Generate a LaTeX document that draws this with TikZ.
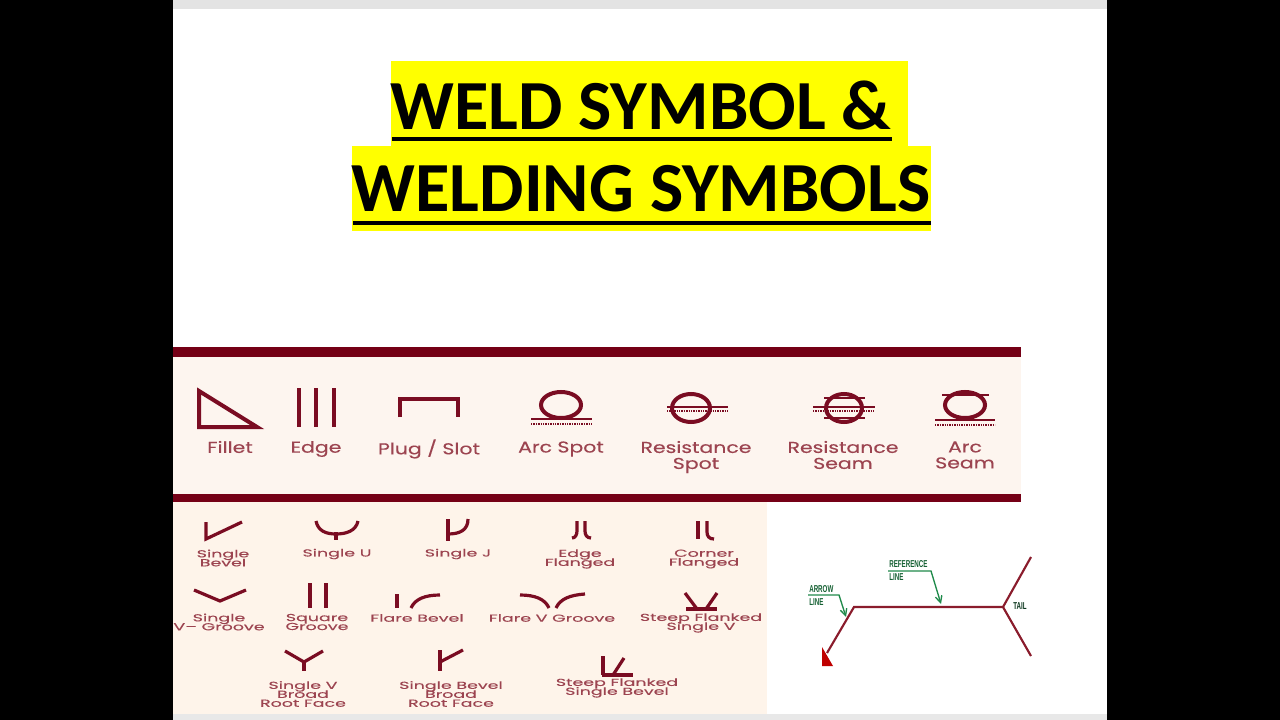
\documentclass[tikz,border=0pt]{standalone}
\usepackage{fontspec}
\usepackage{xcolor}
\usetikzlibrary{positioning,arrows.meta}
\newfontfamily\titlefont{Carlito}
\newfontfamily\chartfont[FakeStretch=1.3,FakeBold=0.3]{Poppins}
\newfontfamily\lowfont[FakeStretch=1.72,FakeBold=0.25]{Poppins}
\newfontfamily\notefont[FakeStretch=0.62]{Liberation Sans}
\definecolor{maroon}{HTML}{7A0C22}
\definecolor{barred}{HTML}{750016}
\definecolor{textmaroon}{HTML}{9C4450}
\definecolor{panelA}{HTML}{FDF5EF}
\definecolor{panelB}{HTML}{FEF4EA}
\definecolor{titleyellow}{HTML}{FFFF00}
\definecolor{notegreen}{HTML}{1F8A4A}
\definecolor{weldline}{HTML}{8A1C2C}
\lineskiplimit=-20pt
\tikzset{
  bigsym/.style={draw=maroon, line width=3pt},
  sym/.style={draw=maroon, line width=2.4pt},
  thinsym/.style={draw=maroon, line width=1.5pt},
  dots/.style={draw=maroon, line width=0.9pt, dash pattern=on 1pt off 0.8pt},
  toplabel/.style={text=textmaroon, align=center, font=\chartfont\fontsize{11.8}{12}\selectfont},
  lowlabel/.style={text=textmaroon, align=center, font=\lowfont\fontsize{7.6}{6.7}\selectfont},
  titletext/.style={text=black, font=\titlefont\bfseries\fontsize{52.8}{52.8}\selectfont, inner sep=0pt},
  note/.style={text=notegreen!70!black, align=left, font=\notefont\bfseries\fontsize{7.5}{9.6}\selectfont, inner sep=0pt},
  leader/.style={draw=notegreen, line width=1pt, -{Straight Barb[length=5pt,width=5pt]}},
  weld/.style={draw=weldline, line width=1.6pt}
}
\begin{document}
\begin{tikzpicture}[x=0.75pt,y=-0.75pt]
    \useasboundingbox (0,0) rectangle (1280,720);
    % Page
    \fill[black] (0,0) rectangle (1280,720);
    \fill[white] (173,0) rectangle (1107,720);
    \fill[black!11] (173,0) rectangle (1107,9);
    \fill[black!9] (173,714) rectangle (1107,720);

    % Title
    \fill[titleyellow] (391,61) rectangle (908,146);
    \fill[titleyellow] (352,146) rectangle (931,231);
    \node[titletext] (titleA) at (641,105) {WELD SYMBOL \&};
    \node[titletext] (titleB) at (641,189) {WELDING SYMBOLS};
    \fill[black] (392,137) rectangle (892,141);
    \fill[black] (353,221) rectangle (931,225);

    % Panels
    \fill[panelA] (173,357) rectangle (1021,494);
    \fill[panelB] (173,502) rectangle (767,714);
    \fill[barred] (173,347) rectangle (1021,357);
    \fill[barred] (173,494) rectangle (1021,502);

    % Fillet, Edge, Plug
    \draw[bigsym, line join=miter] (199,391) -- (199,427) -- (257,427) -- cycle;
    \foreach \x in {299,316,334} \draw[bigsym] (\x,388) -- (\x,427);
    \draw[bigsym] (400,417) -- (400,399) -- (458,399) -- (458,417);
    % Arc Spot
    \draw[bigsym] (561,405) ellipse [x radius=20, y radius=13];
    \draw[thinsym] (531,419) -- (592,419);
    \draw[dots] (531,424) -- (592,424);
    % Resistance Spot
    \draw[bigsym] (691,408) ellipse [x radius=19, y radius=14];
    \draw[thinsym] (667,407) -- (728,407);
    \draw[dots] (667,411) -- (728,411);
    % Resistance Seam
    \draw[bigsym] (844,408) ellipse [x radius=18, y radius=14];
    \draw[thinsym] (813,407) -- (875,407);
    \draw[dots] (813,411) -- (875,411);
    \draw[thinsym] (824,398) -- (865,398);
    \draw[thinsym] (824,418) -- (865,418);
    % Arc Seam
    \draw[bigsym] (965,405) ellipse [x radius=20, y radius=13];
    \draw[thinsym] (942,395) -- (989,395);
    \draw[thinsym] (935,420) -- (995,420);
    \draw[dots] (935,425) -- (995,425);

    % Top row labels
    \node[toplabel] (fillet) at (230,447) {Fillet};
    \node[toplabel] (edge) at (316,449) {Edge};
    \node[toplabel] (plug) at (429,449) {Plug / Slot};
    \node[toplabel] (arcspot) at (561,449) {Arc Spot};
    \node[toplabel] (resspot) at (696,457) {Resistance\\Spot};
    \node[toplabel] (resseam) at (843,455) {Resistance\\Seam};
    \node[toplabel] (arcseam) at (965,455) {Arc\\Seam};

    % Groove symbols, first row
    \draw[sym] (206,522) -- (206,539) -- (242,522);
    \draw[sym] (316,521) .. controls (318,531) and (326,534) .. (336,534) .. controls (346,534) and (356,531) .. (358,521);
    \draw[sym] (336,532) -- (336,540);
    \draw[sym] (448,519) -- (448,541);
    \draw[sym] (448,534) .. controls (460,534) and (468,530) .. (468,519);
    \draw[sym] (577,521) -- (577,531) .. controls (577,535) and (575,538) .. (572,538);
    \draw[sym] (585,521) -- (585,531) .. controls (585,535) and (587,538) .. (591,538);
    \draw[bigsym] (698,521) -- (698,539);
    \draw[sym] (707,521) -- (707,532) .. controls (707,536) and (709,539) .. (714,539);
    \node[lowlabel] (bevel) at (223,558) {Single\\Bevel};
    \node[lowlabel] (singleu) at (337,554) {Single U};
    \node[lowlabel] (singlej) at (458,554) {Single J};
    \node[lowlabel] (edgefl) at (580,559) {Edge\\Flanged};
    \node[lowlabel] (cornerfl) at (704,559) {Corner\\Flanged};

    % Groove symbols, second row
    \draw[sym] (194,590) -- (220,601) -- (246,590);
    \draw[bigsym] (310,583) -- (310,608);
    \draw[bigsym] (326,583) -- (326,608);
    \draw[bigsym] (397,594) -- (397,608);
    \draw[sym] (411,608) .. controls (415,599) and (425,595) .. (440,595);
    \draw[sym] (520,595) .. controls (535,595) and (545,599) .. (549,608);
    \draw[sym] (585,594) .. controls (570,595) and (560,599) .. (556,608);
    \draw[sym] (685,593) -- (697,609);
    \draw[sym] (717,593) -- (706,609);
    \draw[sym] (686,609) -- (717,609);
    \node[lowlabel] (vgroove) at (219,622) {Single\\V– Groove};
    \node[lowlabel] (square) at (317,622) {Square\\Groove};
    \node[lowlabel] (flarebev) at (417,618) {Flare Bevel};
    \node[lowlabel] (flarev) at (552,618) {Flare V Groove};
    \node[lowlabel] (steepv) at (701,623) {Steep Flanked\\Single V};

    % Groove symbols, third row
    \draw[sym] (285,651) -- (304,662) -- (323,651);
    \draw[sym] (304,662) -- (304,671);
    \draw[sym] (440,650) -- (440,671);
    \draw[sym] (440,662) -- (463,650);
    \draw[sym] (603,656) -- (603,675);
    \draw[sym] (624,658) -- (613,675);
    \draw[sym] (602,675) -- (633,675);
    \node[lowlabel] (broadv) at (303,694) {Single V\\Broad\\Root Face};
    \node[lowlabel] (broadbev) at (451,694) {Single Bevel\\Broad\\Root Face};
    \node[lowlabel] (steepbev) at (617,688) {Steep Flanked\\Single Bevel};

    % Welding symbol
    \coordinate (refL) at (854,607);
    \coordinate (refR) at (1003,607);
    \coordinate (tailUp) at (1031,557);
    \coordinate (tailDown) at (1031,656);
    \coordinate (arrowEnd) at (827,653);
    \draw[weld] (arrowEnd) -- (refL) -- (refR) -- (tailUp);
    \draw[weld] (refR) -- (tailDown);
    \fill[red!75!black] (822,647) -- (822,666) -- (833,666) -- cycle;
    \node[note, anchor=north west] (refnote) at (889,560) {REFERENCE\\LINE};
    \node[note, anchor=north west] (arrownote) at (809,585) {ARROW\\LINE};
    \node[note, text=notegreen!40!black] (tail) at (1020,606) {TAIL};
    \coordinate (refA) at (888,571);
    \coordinate (refB) at (931,571);
    \coordinate (refC) at (941,604);
    \coordinate (arrA) at (808,595);
    \coordinate (arrB) at (839,595);
    \coordinate (arrC) at (846,617);
    \draw[leader] (refA) -- (refB) -- (refC);
    \draw[leader] (arrA) -- (arrB) -- (arrC);
\end{tikzpicture}
\end{document}
